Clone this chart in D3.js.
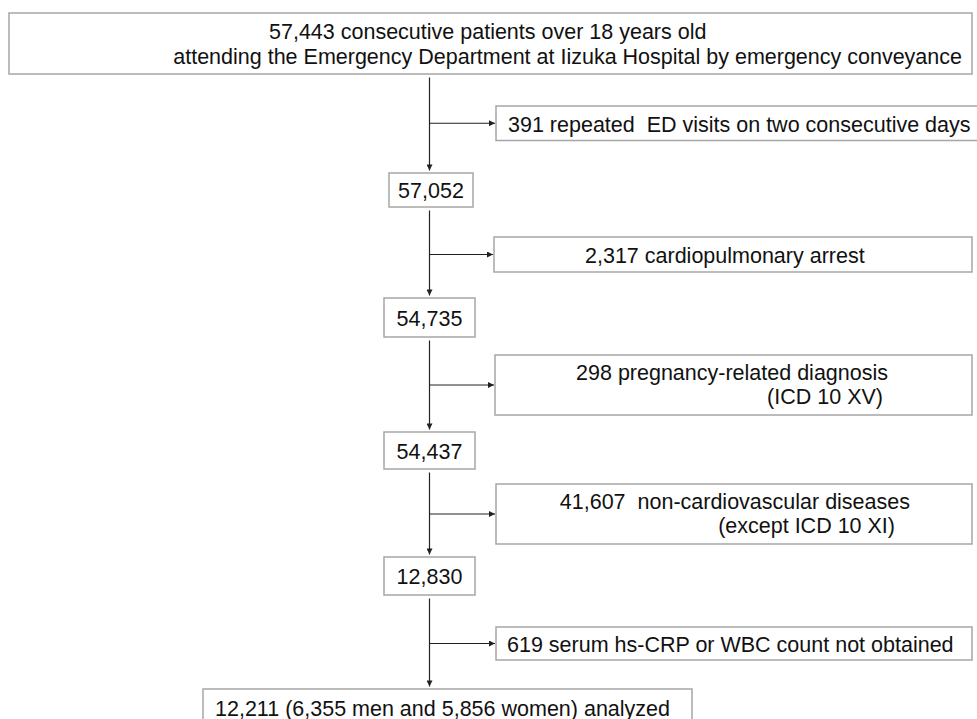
<!DOCTYPE html>
<html>
<head>
<meta charset="utf-8">
<script src="https://cdn.jsdelivr.net/npm/d3@7/dist/d3.min.js"></script>
<style>
  html, body { margin: 0; padding: 0; background: #fff; }
  svg { display: block; }
  text { font-family: "Liberation Sans", Arial, sans-serif; font-size: 21.5px; fill: #111; white-space: pre; }
</style>
</head>
<body>
<svg id="chart" width="977" height="719"></svg>
<script>
// ---- data ----
const mainCounts = [57443, 57052, 54735, 54437, 12830, 12211];
const topLines = ["consecutive patients over 18 years old",
                  "attending the Emergency Department at Iizuka Hospital by emergency conveyance"];
const excludedCounts = [391, 2317, 298, 41607, 619];
const excludedLabels = [
  ["repeated  ED visits on two consecutive days"],
  ["cardiopulmonary arrest"],
  ["pregnancy-related diagnosis", "(ICD 10 XV)"],
  [" non-cardiovascular diseases", "(except ICD 10 XI)"],
  ["serum hs-CRP or WBC count not obtained"]
];
const sexLabels = ["men", "women"];
const sexCounts = [6355, 5856];
const finalLabel = "analyzed";

// ---- layout (positions kept apart from data) ----
const topBox = {x0: 9, x1: 972, y0: 13, y1: 74, lines: [{x: 269, y: 39, anchor: "start"}, {x: 962, y: 64, anchor: "end"}]};
const mainBoxes = [
  null,
  {x0: 389, x1: 473, y0: 173, y1: 207},
  {x0: 384, x1: 475, y0: 298, y1: 337},
  {x0: 384, x1: 475, y0: 432, y1: 469},
  {x0: 384, x1: 475, y0: 557, y1: 595},
  {x0: 203, x1: 692, y0: 689, y1: 740}
];
const exclBoxes = [
  {x0: 496, x1: 979, y0: 106, y1: 140.5, lines: [{x: 508, dy: 25.5, anchor: "start"}]},
  {x0: 494, x1: 972, y0: 237, y1: 272, lines: [{x: 585, dy: 25.5, anchor: "start"}]},
  {x0: 495, x1: 972, y0: 355, y1: 415, lines: [{x: 888, dy: 25, anchor: "end"}, {x: 883, dy: 49, anchor: "end"}]},
  {x0: 496, x1: 972, y0: 484, y1: 544, lines: [{x: 910, dy: 25, anchor: "end"}, {x: 895, dy: 49, anchor: "end"}]},
  {x0: 496, x1: 972, y0: 627, y1: 660, lines: [{x: 507, dy: 25, anchor: "start"}]}
];
const spineX = 429.5;
const fmt = d3.format(",");

const svg = d3.select("#chart");
const boxStroke = "#a6a6a6";
const lineStroke = "#222";

// arrow marker
const defs = svg.append("defs");
defs.append("marker").attr("id", "arrow")
  .attr("viewBox", "0 0 10 10").attr("refX", 10).attr("refY", 5)
  .attr("markerUnits", "userSpaceOnUse")
  .attr("markerWidth", 7).attr("markerHeight", 6).attr("orient", "auto")
  .append("path").attr("d", "M0,0 L10,5 L0,10 Z").attr("fill", lineStroke);

function drawBox(b) {
  svg.append("rect")
    .attr("x", b.x0).attr("y", b.y0)
    .attr("width", b.x1 - b.x0).attr("height", b.y1 - b.y0)
    .attr("fill", "#fff").attr("stroke", boxStroke).attr("stroke-width", 1.5);
}

// top box
drawBox(topBox);
const topTexts = [fmt(mainCounts[0]) + " " + topLines[0], topLines[1]];
svg.selectAll("text.top").data(topTexts).join("text").attr("class", "top")
  .attr("x", (d, i) => topBox.lines[i].x)
  .attr("y", (d, i) => topBox.lines[i].y)
  .attr("text-anchor", (d, i) => topBox.lines[i].anchor)
  .text(d => d);

// main count boxes
mainCounts.forEach((c, i) => {
  if (i === 0) return;
  const b = mainBoxes[i];
  drawBox(b);
  if (i < mainCounts.length - 1) {
    svg.append("text")
      .attr("x", (b.x0 + b.x1) / 2).attr("y", (b.y0 + b.y1) / 2 + 8)
      .attr("text-anchor", "middle").text(fmt(c));
  } else {
    const t = fmt(c) + " (" + fmt(sexCounts[0]) + " " + sexLabels[0] + " and " +
              fmt(sexCounts[1]) + " " + sexLabels[1] + ") " + finalLabel;
    svg.append("text").attr("x", b.x0 + 12).attr("y", b.y0 + 26.5).text(t);
  }
});

// exclusion boxes + connectors
excludedCounts.forEach((c, i) => {
  const b = exclBoxes[i];
  const prev = i === 0 ? topBox : mainBoxes[i];
  const next = mainBoxes[i + 1];
  // vertical spine segment
  svg.append("line")
    .attr("x1", spineX).attr("x2", spineX)
    .attr("y1", prev.y1 + 3.5).attr("y2", next.y0 - 2.5)
    .attr("stroke", lineStroke).attr("stroke-width", 1.2)
    .attr("marker-end", "url(#arrow)");
  // branch
  const by = (b.y0 + b.y1) / 2;
  svg.append("line")
    .attr("x1", spineX).attr("x2", b.x0 - 1)
    .attr("y1", by).attr("y2", by)
    .attr("stroke", lineStroke).attr("stroke-width", 1.2)
    .attr("marker-end", "url(#arrow)");
  drawBox(b);
  const lines = excludedLabels[i].map((l, j) => j === 0 ? fmt(c) + " " + l : l);
  lines.forEach((l, j) => {
    svg.append("text")
      .attr("x", b.lines[j].x).attr("y", b.y0 + b.lines[j].dy)
      .attr("text-anchor", b.lines[j].anchor)
      .text(l);
  });
});
</script>
</body>
</html>
